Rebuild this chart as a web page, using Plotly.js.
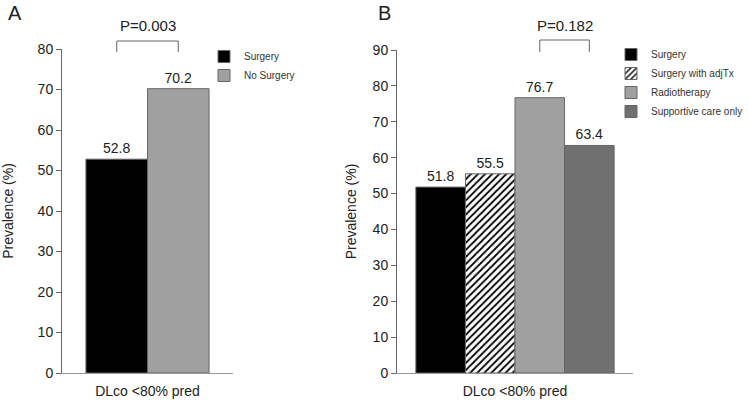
<!DOCTYPE html>
<html>
<head>
<meta charset="utf-8">
<script src="https://cdn.plot.ly/plotly-3.0.1.min.js"></script>
<style>html,body{margin:0;padding:0;background:#fff}#chart{width:748px;height:400px}</style>
</head>
<body>
<div id="chart"></div>
<script>
// ---- data ----
const categories = ['DLco <80% pred'];
const seriesA = ['Surgery', 'No Surgery'];
const valuesA = [52.8, 70.2];
const seriesB = ['Surgery', 'Surgery with adjTx', 'Radiotherapy', 'Supportive care only'];
const valuesB = [51.8, 55.5, 76.7, 63.4];
const pValueA = 'P=0.003';
const pValueB = 'P=0.182';
const yTicksA = [0, 10, 20, 30, 40, 50, 60, 70, 80];
const yTicksB = [0, 10, 20, 30, 40, 50, 60, 70, 80, 90];

// ---- styles ----
const FONT = 'Liberation Sans, Arial, Helvetica, sans-serif';
const colorsA = ['#000000', '#a0a0a0'];
const colorsB = ['#000000', '#ffffff', '#a0a0a0', '#707070'];
const wA = 0.36, wB = 0.21;

const traces = [];
seriesA.forEach((name, i) => {
  traces.push({
    type: 'bar', name: name, x: categories, y: [valuesA[i]],
    xaxis: 'x', yaxis: 'y', legend: 'legend',
    width: wA, offset: (i - seriesA.length / 2) * wA,
    marker: {color: colorsA[i], line: {color: '#666', width: 1}},
    text: [valuesA[i].toFixed(1)], textposition: 'outside', cliponaxis: false,
    textfont: {family: FONT, size: 14, color: '#222'}
  });
});
seriesB.forEach((name, i) => {
  const m = {color: colorsB[i], line: {color: '#666', width: 1}};
  if (i === 1) m.pattern = {shape: '/', fgcolor: '#000', bgcolor: '#fff', size: 5, solidity: 0.35};
  traces.push({
    type: 'bar', name: name, x: categories, y: [valuesB[i]],
    xaxis: 'x2', yaxis: 'y2', legend: 'legend2',
    width: wB, offset: (i - seriesB.length / 2) * wB,
    marker: m,
    text: [valuesB[i].toFixed(1)], textposition: 'outside', cliponaxis: false,
    textfont: {family: FONT, size: 14, color: '#222'}
  });
});

const yaxisBase = {
  ticks: 'outside', ticklen: 5, tickcolor: '#666', showline: true, linecolor: '#666',
  showgrid: false, zeroline: false, tickfont: {family: FONT, size: 14, color: '#222'}
};
const xaxisBase = {
  showline: true, linecolor: '#999', ticks: '', showgrid: false, ticklabelstandoff: 5,
  tickfont: {family: FONT, size: 14, color: '#222'}, range: [-0.5, 0.5], fixedrange: true
};
const yTitleFont = {family: FONT, size: 14, color: '#222'};

function bracket(xa, xL, xR, yb, yt) {
  const ln = {color: '#666', width: 1};
  return [
    {type: 'line', xref: xa, yref: 'paper', x0: xL, x1: xL, y0: yb, y1: yt, line: ln},
    {type: 'line', xref: xa, yref: 'paper', x0: xL, x1: xR, y0: yt, y1: yt, line: ln},
    {type: 'line', xref: xa, yref: 'paper', x0: xR, x1: xR, y0: yt, y1: yb, line: ln}
  ];
}
const legendFont = {family: FONT, size: 10, color: '#333'};

const layout = {
  width: 748, height: 400,
  margin: {l: 0, r: 0, t: 0, b: 0, autoexpand: false},
  paper_bgcolor: '#fff', plot_bgcolor: '#fff',
  barmode: 'overlay',
  font: {family: FONT, color: '#222'},
  xaxis: Object.assign({}, xaxisBase, {domain: [62/748, 233/748], anchor: 'y'}),
  yaxis: Object.assign({}, yaxisBase, {domain: [0.0675, 0.8775], range: [0, 80], tickvals: yTicksA, anchor: 'x',
    title: {text: 'Prevalence (%)', font: yTitleFont, standoff: 25}}),
  xaxis2: Object.assign({}, xaxisBase, {domain: [397/748, 633/748], anchor: 'y2'}),
  yaxis2: Object.assign({}, yaxisBase, {domain: [0.0675, 0.875], range: [0, 90], tickvals: yTicksB, anchor: 'x2',
    title: {text: 'Prevalence (%)', font: yTitleFont, standoff: 12}}),
  legend: {x: 204/748, y: 0.895, xanchor: 'left', yanchor: 'top', font: legendFont, bgcolor: 'rgba(0,0,0,0)'},
  legend2: {x: 611/748, y: 0.9, xanchor: 'left', yanchor: 'top', font: legendFont, bgcolor: 'rgba(0,0,0,0)'},
  shapes: [].concat(
    bracket('x', -wA / 2, wA / 2, 0.87, 0.8975),
    bracket('x2', wB / 2, 3 * wB / 2, 0.87, 0.9)
  ),
  annotations: [
    {text: 'A', xref: 'paper', yref: 'paper', x: 15/748, y: 1 - 13/400, xanchor: 'center', yanchor: 'middle', showarrow: false, font: {family: FONT, size: 20, color: '#222'}},
    {text: 'B', xref: 'paper', yref: 'paper', x: 385/748, y: 1 - 13/400, xanchor: 'center', yanchor: 'middle', showarrow: false, font: {family: FONT, size: 20, color: '#222'}},
    {text: pValueA, xref: 'x', yref: 'paper', x: 0, y: 1 - 26/400, xanchor: 'center', yanchor: 'middle', showarrow: false, font: {family: FONT, size: 15, color: '#222'}},
    {text: pValueB, xref: 'x2', yref: 'paper', x: wB, y: 1 - 26/400, xanchor: 'center', yanchor: 'middle', showarrow: false, font: {family: FONT, size: 15, color: '#222'}}
  ],
  showlegend: true
};

Plotly.newPlot('chart', traces, layout, {displayModeBar: false, staticPlot: true});
</script>
</body>
</html>
